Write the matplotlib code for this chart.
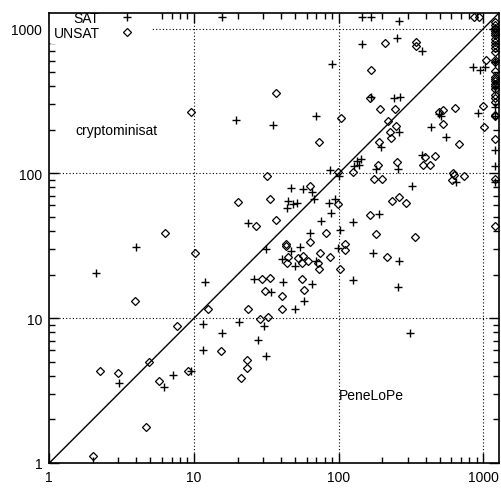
import matplotlib
matplotlib.use("Agg")
import matplotlib.pyplot as plt
from matplotlib.ticker import NullFormatter

plt.rcParams['font.family'] = ['Liberation Sans', 'DejaVu Sans']
plt.rcParams['font.size'] = 10

# solve times (s) : x = PeneLoPe, y = cryptominisat
sat_x = [2.11, 4.0, 12.0, 15.7, 19.4, 144, 167, 260, 252, 144, 375, 89.5, 167, 240, 264,
         69.3, 34.9, 260, 195, 86.7, 100, 127, 133, 142, 137, 180, 256, 375, 492, 508,
         433, 550, 916, 846, 946, 1024,
         1200, 1200, 1200, 1200, 1200, 1200, 1200,
         320, 645, 189, 125, 172, 260, 125, 256, 310, 46.5, 56.4, 65.0, 67.1, 44.4,
         43.6, 48.1, 51.2, 85.3, 93.8, 88.1, 23.5, 75.1, 63.0, 102, 53.7, 31.2, 46.5,
         98.4, 40.3, 49.6, 69.3, 25.8, 41.0, 65.0, 33.8, 57.3, 49.6, 11.6, 20.6, 30.3,
         15.7, 11.6, 27.5, 31.2, 3.05, 6.25, 7.10, 9.46]
sat_y = [20.5, 31.1, 17.8, 1210, 233, 1210, 1210, 1120, 866, 787, 703, 571, 337, 332, 337,
         249, 215, 193, 152, 105, 95.3, 112, 121, 125, 114, 107, 107, 133, 257, 249,
         209, 178, 261, 545, 519, 545,
         590, 389, 287, 249, 144, 112, 86.6,
         81.3, 86.6, 52.7, 46.4, 28.3, 24.9, 18.4, 16.4, 7.87, 78.7, 77.4, 73.8, 67.0, 64.9,
         58.0, 61.9, 62.9, 62.9, 67.0, 53.6, 45.7, 47.2, 38.9, 40.8, 31.1, 30.1, 29.2,
         30.6, 25.7, 23.0, 24.9, 18.7, 17.8, 17.2, 15.2, 13.1, 11.5, 9.09, 9.38, 8.80,
         7.87, 5.99, 7.03, 5.45, 3.59, 3.37, 4.02, 4.29]

unsat_x = [6.35, 3.94, 10.2, 12.4, 9.46, 859, 931, 208, 341, 341, 167, 36.6, 164, 192, 244,
           103, 218, 248, 225, 229, 189, 72.7, 98.4, 31.8, 125, 186, 252, 394, 462, 381,
           426, 492, 525, 635, 525, 677, 993, 1008, 1041, 615, 625, 605, 733, 175, 198,
           233, 260, 291, 164, 180, 336, 110, 110, 215, 63.0, 33.3, 20.0, 98.4, 36.6,
           26.6, 81.3, 43.0, 43.0, 63.0, 73.9, 86.7, 44.4, 52.0, 56.4, 61.0, 43.6, 55.5,
           71.6, 72.7, 102, 29.3, 33.3, 55.5, 30.8, 57.3, 40.3, 23.5, 40.3, 28.4, 32.3,
           7.57, 15.3, 23.1, 23.1, 21.0, 4.92, 2.25, 2.96, 5.77, 9.02, 4.69, 2.02,
           1200, 1200, 1200, 1200, 1200, 1200, 1200, 1200, 1200, 1200, 1200, 1200, 1200,
           1200, 1200, 1200, 1200, 1200, 1200, 1200, 1200, 1200, 1200, 1200, 1200, 1200,
           1200, 1200, 1200]
unsat_y = [38.9, 13.1, 28.3, 11.5, 265, 1210, 1210, 799, 812, 762, 519, 359, 332, 278, 278,
           241, 230, 212, 193, 175, 164, 164, 102, 95.3, 102, 114, 119, 129, 131, 114,
           114, 265, 274, 283, 219, 159, 292, 209, 609, 100, 96.9, 89.4, 95.3, 90.9, 90.9,
           64.9, 69.2, 62.9, 51.9, 38.3, 36.5, 32.6, 29.7, 26.5, 81.3, 67.0, 63.9, 61.9, 47.9,
           43.5, 38.9, 32.6, 31.6, 33.7, 28.3, 26.5, 26.5, 26.1, 26.9, 24.9, 24.1, 24.1,
           24.1, 21.9, 21.9, 18.7, 18.9, 18.7, 15.4, 15.6, 14.2, 11.5, 11.5, 9.84, 10.2,
           8.80, 5.90, 5.11, 4.50, 3.89, 4.95, 4.29, 4.15, 3.71, 4.29, 1.78, 1.12,
           1112, 1054, 1012, 990, 958, 938, 898, 853, 808, 766, 734, 689, 603,
           587, 513, 462, 445, 431, 415, 400, 383, 348, 330, 313, 253, 248,
           172, 92, 43]

ticks = [1, 10, 100, 1000]
tick_labels = ['1', '10', '100', '1000']
lim = (1, 1280)

fig = plt.figure(figsize=(5.01, 4.89), dpi=100)
ax = fig.add_axes([49.3 / 501, 25 / 489, 449.7 / 501, 450 / 489])
ax.set_xscale('log')
ax.set_yscale('log')
ax.set_xlim(lim)
ax.set_ylim(lim)

# dotted grid
for v in ticks[1:]:
    ax.axhline(v, color='black', ls=(0, (1, 2)), lw=0.8, zorder=1)
    ax.axvline(v, color='black', ls=(0, (1, 2)), lw=0.8, zorder=1)
ax.axline((1, 1), (10, 10), color='black', lw=1, zorder=1.5)

ax.plot(sat_x, sat_y, ls='none', marker='+', ms=6, mew=1, color='black',
        label='SAT', zorder=3)
ax.plot(unsat_x, unsat_y, ls='none', marker='D', ms=3.7, mfc='none', mec='black',
        mew=0.9, label='UNSAT', zorder=3)

ax.set_xticks(ticks, tick_labels)
ax.set_yticks(ticks, tick_labels)
ax.xaxis.set_minor_formatter(NullFormatter())
ax.yaxis.set_minor_formatter(NullFormatter())
ax.tick_params(which='both', direction='in', top=True, right=True, pad=5)
ax.tick_params(which='major', length=7, width=1)
ax.tick_params(which='minor', length=4, width=1)
for s in ax.spines.values():
    s.set_linewidth(1.2)

leg = ax.legend(loc='upper left', bbox_to_anchor=(0.0, 1.014), markerfirst=False,
                frameon=True, borderpad=0.3, borderaxespad=0, handlelength=3,
                handletextpad=0.5, labelspacing=0.05, numpoints=1)
leg.get_frame().set_edgecolor('none')
leg.get_frame().set_facecolor('white')
leg.get_frame().set_alpha(1)
leg.set_zorder(2)

ax.text(0.149, 0.739, 'cryptominisat', transform=ax.transAxes, ha='center', va='center')
ax.text(0.644, 0.150, 'PeneLoPe', transform=ax.transAxes, ha='left', va='center')

fig.savefig('out.png', dpi=100)
